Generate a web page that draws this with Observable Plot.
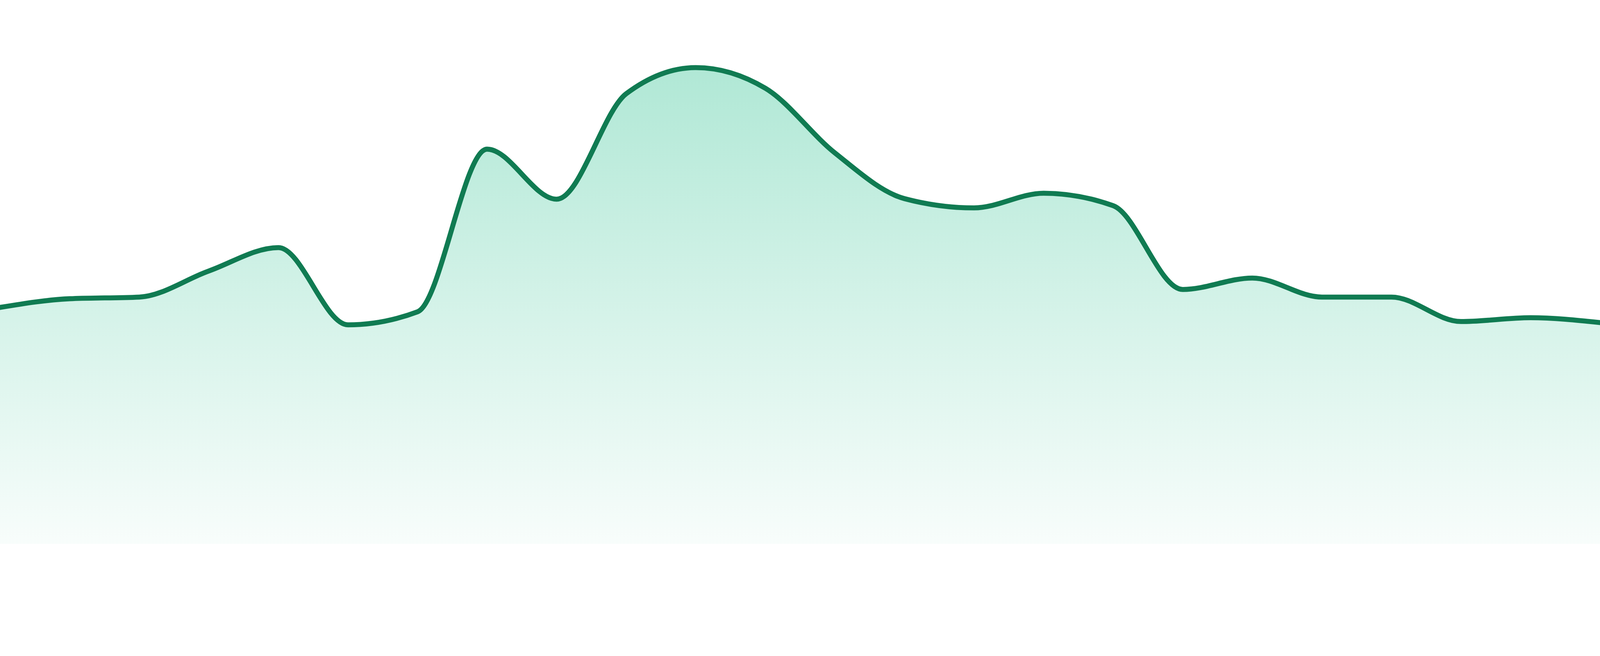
<!DOCTYPE html>
<html>
<head>
<meta charset="utf-8">
<script src="https://cdn.jsdelivr.net/npm/d3@7"></script>
<script src="https://cdn.jsdelivr.net/npm/@observablehq/plot@0.6"></script>
<style>
  html, body { margin: 0; padding: 0; background: #ffffff; overflow: hidden; }
  #chart svg { display: block; }
</style>
</head>
<body>
<div id="chart"></div>
<script>
// Periods (no visible tick labels in the reference)
const periods = [1, 2, 3, 4, 5, 6, 7, 8, 9, 10, 11, 12, 13, 14, 15, 16, 17, 18, 19, 20, 21, 22, 23, 24];
// Series values (0–100 scale)
const values = [43.5, 45.1, 45.4, 50.2, 54.5, 40.3, 42.7, 72.6, 63.4, 82.8, 87.6, 83.8,
                71.9, 63.5, 61.8, 64.5, 62.2, 46.8, 48.9, 45.4, 45.4, 40.9, 41.6, 40.7];

const data = periods.map((p, i) => ({period: p, value: values[i]}));

const chart = Plot.plot({
  width: 4800,
  height: 1680,
  marginTop: 0,
  marginRight: 0,
  marginLeft: 0,
  marginBottom: 48,
  x: {domain: [1, 24], axis: null},
  y: {domain: [0, 100], axis: null},
  marks: [
    Plot.areaY(data, {x: "period", y: "value", curve: "monotone-x", fill: "url(#areaGrad)"}),
    Plot.lineY(data, {x: "period", y: "value", curve: "monotone-x", stroke: "#107b52", strokeWidth: 15, strokeLinejoin: "round"})
  ]
});

const svg = d3.select(chart);
const defs = svg.insert("defs", ":first-child");
const grad = defs.append("linearGradient")
  .attr("id", "areaGrad")
  .attr("x1", 0).attr("y1", 0).attr("x2", 0).attr("y2", 1);
grad.append("stop").attr("offset", "0%").attr("stop-color", "#10b981").attr("stop-opacity", 0.33);
grad.append("stop").attr("offset", "100%").attr("stop-color", "#10b981").attr("stop-opacity", 0.03);

document.getElementById("chart").appendChild(chart);
</script>
</body>
</html>
